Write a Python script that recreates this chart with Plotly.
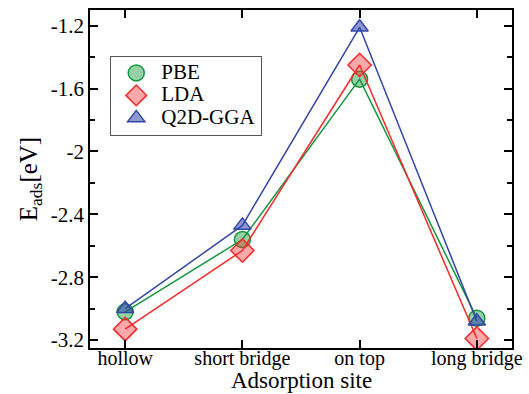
import plotly.graph_objects as go

sites = ["hollow", "short bridge", "on top", "long bridge"]
pbe = [-3.02, -2.56, -1.54, -3.06]
lda = [-3.13, -2.63, -1.45, -3.19]
q2d = [-3.00, -2.47, -1.21, -3.08]

xi = list(range(len(sites)))
font_family = "Liberation Serif, Times New Roman, serif"

styles = [
    ("PBE", pbe, "rgb(20,150,60)", "rgba(20,150,60,0.45)", "circle", 16),
    ("LDA", lda, "rgb(250,40,40)", "rgba(250,40,40,0.4)", "diamond", 18),
    ("Q2D-GGA", q2d, "rgb(50,70,170)", "rgba(50,70,170,0.55)", "triangle-up", 15),
]

fig = go.Figure()
for name, vals, col, fill, sym, sz in styles:
    fig.add_trace(go.Scatter(
        x=xi, y=vals, name=name, mode="lines+markers", showlegend=False,
        line=dict(color=col, width=1.5),
        marker=dict(symbol=sym, size=sz, color=fill, line=dict(color=col, width=1.5))))
for name, vals, col, fill, sym, sz in styles:
    fig.add_trace(go.Scatter(
        x=[None], y=[None], name='<span style="font-size:21px">%s</span>' % name,
        mode="markers", showlegend=True,
        marker=dict(symbol=sym, size=sz, color=fill, line=dict(color=col, width=1.5))))

fig.update_layout(
    width=529, height=394,
    margin=dict(l=90, r=17, t=10, b=46),
    paper_bgcolor="white", plot_bgcolor="white",
    font=dict(family=font_family, color="black", size=20),
    showlegend=True,
    legend=dict(x=0.048, y=0.865, xanchor="left", yanchor="top",
                bgcolor="white", bordercolor="#555", borderwidth=1,
                font=dict(size=15, family=font_family),
                itemwidth=40, tracegroupgap=0,
                traceorder="normal"),
    xaxis=dict(range=[-0.3, 3.3], tickmode="array", tickvals=xi, ticktext=sites,
               showline=True, linecolor="black", linewidth=1.5, mirror="ticks",
               ticks="inside", ticklen=8, tickcolor="black", tickwidth=1.5,
               showgrid=False, zeroline=False, automargin=False,
               ticklabelstandoff=-9,
               tickfont=dict(size=20, family=font_family)),
    yaxis=dict(range=[-3.25, -1.1], tickmode="array",
               tickvals=[-3.2, -2.8, -2.4, -2.0, -1.6, -1.2],
               ticktext=["-3.2", "-2.8", "-2.4", "-2", "-1.6", "-1.2"],
               showline=True, linecolor="black", linewidth=1.5, mirror="ticks",
               ticks="inside", ticklen=8, tickcolor="black", tickwidth=1.5,
               minor=dict(ticks="inside", ticklen=5, tickcolor="black", tickwidth=1.5,
                          tickvals=[-3.0, -2.6, -2.2, -1.8, -1.4]),
               showgrid=False, zeroline=False, automargin=False,
               tickfont=dict(size=21, family=font_family),
               title=dict(text="E<sub>ads</sub>[eV]", font=dict(size=25, family=font_family), standoff=6)),
    annotations=[dict(text="Adsorption site", xref="paper", yref="paper",
                      x=0.5, y=-0.0976, xanchor="center", yanchor="middle",
                      borderpad=0, showarrow=False,
                      font=dict(size=23, family=font_family))],
)

fig.write_html("out.html")
